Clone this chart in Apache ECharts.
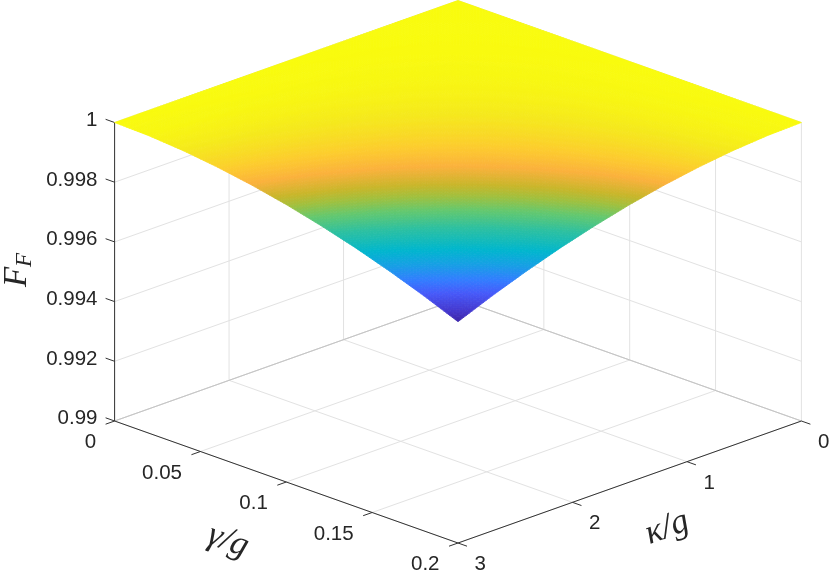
<!DOCTYPE html>
<html><head><meta charset="utf-8">
<style>html,body{margin:0;padding:0;background:#fff}#c{width:830px;height:574px}</style>
<script src="https://cdn.jsdelivr.net/npm/echarts@6/dist/echarts.min.js"></script>
</head><body><div id="c"></div>
<script>
const gammaValues = [0,0.02,0.04,0.06,0.08,0.1,0.12,0.14,0.16,0.18,0.2];
const kappaValues = [0,0.3,0.6,0.9,1.2,1.5,1.8,2.1,2.4,2.7,3];
const gammaTicks = [0,0.05,0.1,0.15,0.2];
const gammaTickLabels = ['0','0.05','0.1','0.15','0.2'];
const kappaTicks = [0,1,2,3];
const kappaTickLabels = ['0','1','2','3'];
const fTicks = [0.99,0.992,0.994,0.996,0.998,1];
const fTickLabels = ['0.99','0.992','0.994','0.996','0.998','1'];
const F_g000 = [1,1,1,1,1,1,1,1,1,1,1];
const F_g002 = [1,0.9999995,0.999998,0.999996,0.999994,0.99999,0.999987,0.999982,0.999977,0.999971,0.999965];
const F_g004 = [1,0.999998,0.999994,0.999987,0.999977,0.999965,0.999951,0.999935,0.999916,0.999895,0.999873];
const F_g006 = [1,0.999996,0.999987,0.999971,0.999951,0.999926,0.999895,0.99986,0.999821,0.999776,0.999728];
const F_g008 = [1,0.999994,0.999977,0.999951,0.999916,0.999873,0.999821,0.999761,0.999693,0.999618,0.999535];
const F_g010 = [1,0.99999,0.999965,0.999926,0.999873,0.999807,0.999728,0.999637,0.999534,0.999419,0.999293];
const F_g012 = [1,0.999987,0.999951,0.999895,0.999821,0.999728,0.999617,0.999489,0.999344,0.999182,0.999004];
const F_g014 = [1,0.999982,0.999935,0.99986,0.999761,0.999637,0.999489,0.999319,0.999126,0.998911,0.998673];
const F_g016 = [1,0.999977,0.999916,0.999821,0.999693,0.999534,0.999344,0.999126,0.998877,0.998601,0.998296];
const F_g018 = [1,0.999971,0.999895,0.999776,0.999618,0.999419,0.999182,0.998911,0.998601,0.998257,0.997877];
const F_g020 = [1,0.999965,0.999873,0.999728,0.999535,0.999293,0.999004,0.998673,0.998296,0.997877,0.997414];
const surfaceRows = [F_g000,F_g002,F_g004,F_g006,F_g008,F_g010,F_g012,F_g014,F_g016,F_g018,F_g020];

const colorStops = [
 [0,62,38,168],[0.07,68,55,205],[0.19,70,90,250],[0.275,50,125,255],[0.37,22,160,228],
 [0.456,0,182,205],[0.57,45,192,160],[0.655,100,200,110],[0.715,160,192,62],[0.76,200,182,42],[0.825,251,177,60],
 [0.885,252,205,45],[0.95,245,233,28],[1,249,251,14]];
function colorOf(n){
  for(let i=1;i<colorStops.length;i++){
    if(n<=colorStops[i][0]){
      const a=colorStops[i-1],b=colorStops[i],f=(n-a[0])/(b[0]-a[0]);
      return 'rgb('+Math.round(a[1]+(b[1]-a[1])*f)+','+Math.round(a[2]+(b[2]-a[2])*f)+','+Math.round(a[3]+(b[3]-a[3])*f)+')';
    }
  }
  return 'rgb(249,251,14)';
}
// axes-box projection (orthographic view of the 3-D box)
const GMAX=0.2,KMAX=3,ZMIN=0.99,ZMAX=1;
const BX=458,BY=299,DX=343.4,DY=122,ZH=298.5;
function project(g,k,z){
  const t=g/GMAX,s=k/KMAX;
  return [BX+DX*(t-s), BY+DY*(t+s)-ZH*(z-ZMIN)/(ZMAX-ZMIN)];
}
const fMin=Math.min.apply(null,surfaceRows.map(r=>Math.min.apply(null,r)));
const GRID='#e2e2e2',AXIS='#333333',TXT='#262626',NUM='20.5px "Liberation Sans"';

function segEl(api,a,b,color,w){
  const p=api.coord(a),q=api.coord(b);
  return {type:'line',shape:{x1:p[0],y1:p[1],x2:q[0],y2:q[1]},style:{stroke:color,lineWidth:w,fill:null},silent:true};
}
function textEl(api,a,text,font,align,rot){
  const p=api.coord(a);
  return {type:'text',x:p[0],y:p[1],rotation:rot||0,silent:true,
    style:{text:text,font:font,fill:TXT,align:align,verticalAlign:'middle'}};
}
function renderGrid(params,api){
  const ch=[];
  const seg=(a,b,w)=>ch.push(segEl(api,a,b,GRID,w||1));
  gammaTicks.forEach(g=>{
    seg(project(g,0,ZMIN),project(g,KMAX,ZMIN));
    seg(project(g,0,ZMIN),project(g,0,ZMAX));
  });
  kappaTicks.forEach(k=>{
    seg(project(0,k,ZMIN),project(GMAX,k,ZMIN));
    seg(project(0,k,ZMIN),project(0,k,ZMAX));
  });
  fTicks.forEach(z=>{
    seg(project(0,0,z),project(0,KMAX,z));
    seg(project(0,0,z),project(GMAX,0,z));
  });
  // back floor edges are drawn darker: two sets of grid lines overlap there
  ch.push(segEl(api,project(0,0,ZMIN),project(0,KMAX,ZMIN),'#c4c4c4',1));
  ch.push(segEl(api,project(0,0,ZMIN),project(GMAX,0,ZMIN),'#c4c4c4',1));
  return {type:'group',children:ch};
}
function renderAxes(params,api){
  const ch=[];
  const seg=(a,b)=>ch.push(segEl(api,a,b,AXIS,1));
  seg(project(0,KMAX,ZMIN),project(0,KMAX,ZMAX));
  seg(project(0,KMAX,ZMIN),project(GMAX,KMAX,ZMIN));
  seg(project(GMAX,KMAX,ZMIN),project(GMAX,0,ZMIN));
  fTicks.forEach((z,i)=>{
    const p=project(0,KMAX,z);
    seg(p,[p[0]-9,p[1]-3.2]);
    ch.push(textEl(api,[97.5,p[1]-2.2],fTickLabels[i],NUM,'right'));
  });
  gammaTicks.forEach((g,i)=>{
    const p=project(g,KMAX,ZMIN);
    seg(p,[p[0]-9,p[1]+3.2]);
    ch.push(textEl(api,[p[0]-18.5,p[1]+21.5],gammaTickLabels[i],NUM,'right'));
  });
  kappaTicks.forEach((k,i)=>{
    const p=project(GMAX,k,ZMIN);
    seg(p,[p[0]+9,p[1]+3.2]);
    ch.push(textEl(api,[p[0]+16.5,p[1]+21.5],kappaTickLabels[i],NUM,'left'));
  });
  const serif='italic 35px "Liberation Serif"';
  ch.push(textEl(api,[228,541],'γ/g',serif,'center',-20*Math.PI/180));
  ch.push(textEl(api,[667,528],'κ/g',serif,'center',20*Math.PI/180));
  ch.push(textEl(api,[17,277],'F','italic 33px "Liberation Serif"','center',Math.PI/2));
  ch.push(textEl(api,[24.5,260],'F','italic 23px "Liberation Serif"','center',Math.PI/2));
  return {type:'group',children:ch};
}
const SUB=12;
function renderCell(params,api){
  const i=api.value(0),j=api.value(1);
  const z00=surfaceRows[i][j],z01=surfaceRows[i][j+1],z10=surfaceRows[i+1][j],z11=surfaceRows[i+1][j+1];
  const g0=gammaValues[i],g1=gammaValues[i+1],k0=kappaValues[j],k1=kappaValues[j+1];
  const at=(u,v)=>{
    const z=(1-u)*(1-v)*z00+(1-u)*v*z01+u*(1-v)*z10+u*v*z11;
    return [g0+(g1-g0)*u,k0+(k1-k0)*v,z];
  };
  const ch=[];
  for(let a=0;a<SUB;a++)for(let b=0;b<SUB;b++){
    const c=[at(a/SUB,b/SUB),at((a+1)/SUB,b/SUB),at((a+1)/SUB,(b+1)/SUB),at(a/SUB,(b+1)/SUB)];
    const zm=(c[0][2]+c[1][2]+c[2][2]+c[3][2])/4;
    const col=colorOf((zm-fMin)/(1-fMin));
    ch.push({type:'polygon',silent:true,
      shape:{points:c.map(p=>api.coord(project(p[0],p[1],p[2])))},
      style:{fill:col,stroke:col,lineWidth:0.8}});
  }
  return {type:'group',children:ch};
}
const cells=[];
for(let i=0;i<gammaValues.length-1;i++)for(let j=0;j<kappaValues.length-1;j++)cells.push([i,j]);

const chart=echarts.init(document.getElementById('c'),null,{renderer:'canvas'});
chart.setOption({
  animation:false,
  backgroundColor:'#fff',
  grid:{left:0,right:0,top:0,bottom:0},
  xAxis:{type:'value',min:0,max:830,show:false},
  yAxis:{type:'value',min:0,max:574,inverse:true,show:false},
  series:[
    {type:'custom',name:'grid',coordinateSystem:'cartesian2d',clip:false,silent:true,renderItem:renderGrid,data:[[0,0]]},
    {type:'custom',name:'axes',coordinateSystem:'cartesian2d',clip:false,silent:true,renderItem:renderAxes,data:[[0,0]]},
    {type:'custom',name:'F_F',coordinateSystem:'cartesian2d',clip:false,silent:true,progressive:0,renderItem:renderCell,data:cells}
  ]
});
</script></body></html>
